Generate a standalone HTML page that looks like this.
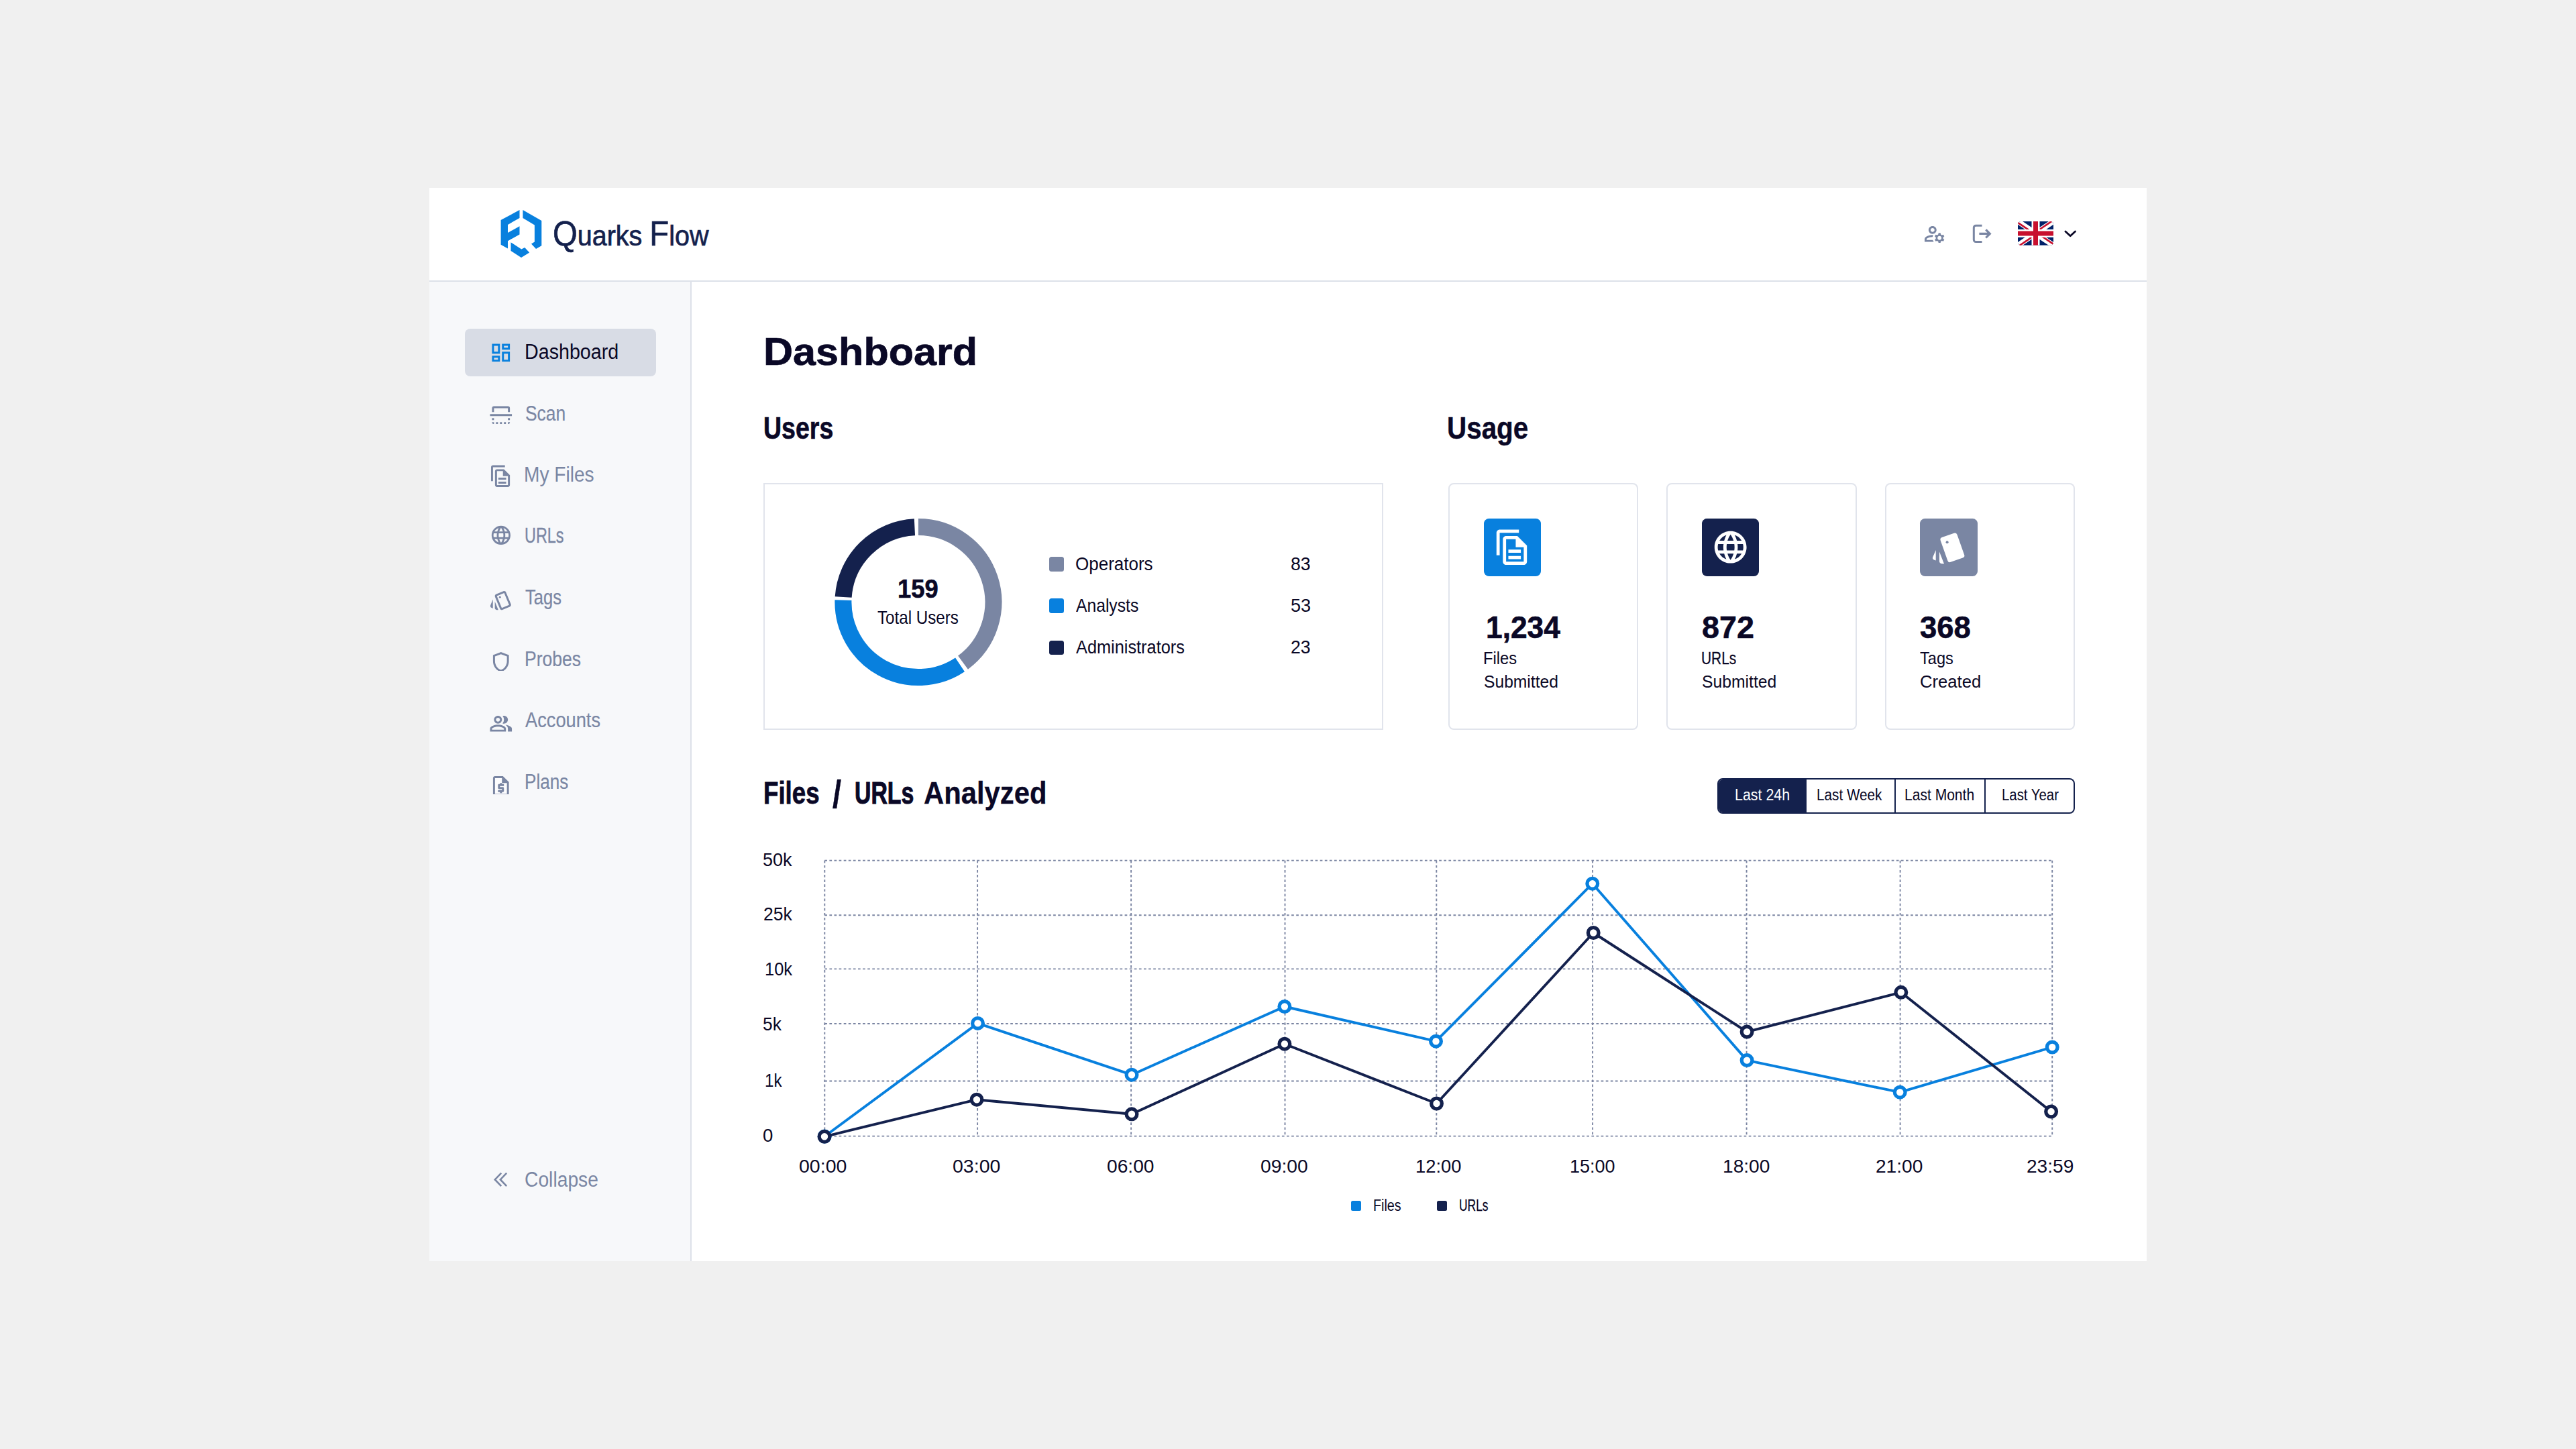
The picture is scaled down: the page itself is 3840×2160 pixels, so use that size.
<!DOCTYPE html>
<html lang="en"><head><meta charset="utf-8"><title>Quarks Flow – Dashboard</title>
<style>
*{box-sizing:border-box;margin:0;padding:0}
html,body{width:3840px;height:2160px;background:#f0f0f0;font-family:"Liberation Sans",sans-serif}
.t{position:absolute;white-space:nowrap;line-height:1;transform-origin:0 0;display:block}
.ic,.box,.tile,.clip,.sq{position:absolute;display:block}
.clip{overflow:hidden}
svg{overflow:visible}
#app{position:absolute;left:640px;top:280px;width:2560px;height:1600px;background:#fff}
#hdrline{left:640px;top:417.5px;width:2560px;height:2px;background:#dde1e9}
#side{left:640px;top:419.5px;width:389.2px;height:1460.5px;background:#f7f8fa}
#sideline{left:1029.2px;top:419.5px;width:2px;height:1460.5px;background:#dde1e9}
#active{left:693.3px;top:490.3px;width:284.4px;height:70.3px;border-radius:8px;background:#d8dce5}
.card{position:absolute;top:720px;height:368px;border:2px solid #e1e4ec;background:#fff}
.ucard{width:283.5px;border-radius:8px}
.tile{top:773.2px;width:85.5px;height:85.5px;border-radius:7.5px}
.sq{width:21.4px;height:21.4px;border-radius:3.5px;left:1564.4px}
.lsq{position:absolute;top:1790px;width:14.5px;height:15px;border-radius:2.5px}
#seg{position:absolute;left:2560px;top:1159.5px;width:533.2px;height:53px;border:2px solid #14214d;border-radius:8px;overflow:hidden;background:#fff}
#seg i{position:absolute;top:0;width:2px;height:100%;background:#14214d}
#seg b{position:absolute;left:0;top:0;width:130.7px;height:100%;background:#14214d}
#full{position:absolute;left:0;top:0;width:3840px;height:2160px;pointer-events:none}
</style></head>
<body>
<div id="app"></div>
<header>
<svg class="ic" style="left:0;top:0;width:3840px;height:460px" viewBox="0 0 3840 460" fill="#0880de"><polygon points="746.6,328.0 774.5,313.1 774.5,324.9 757.0,335.0 757.0,347.0 774.5,337.2 774.5,349.4 757.0,359.2 757.0,370.4 746.6,364.8"/><polygon points="779.4,313.1 807.3,329.1 807.3,366.2 799.0,371.1 792.0,363.4 796.9,360.6 796.9,335.4 779.4,324.9"/><polygon points="761.5,361.3 777.3,371.5 782.2,369.0 789.2,376.6 777.0,383.9 761.5,373.9"/></svg>
<svg class="ic" style="left:800px;top:300px;width:300px;height:100px" viewBox="800 300 300 100"><text x="824" y="366.2" textLength="232.5" lengthAdjust="spacingAndGlyphs" font-family="Liberation Sans, sans-serif" font-size="43" fill="#14214d" stroke="#14214d" stroke-width="0.7"><tspan font-size="51.5">Q</tspan>uarks <tspan font-size="51.5">F</tspan>low</text></svg>
<svg class="ic" style="left:2865.7px;top:330.5px;width:35.56px;height:35.56px" viewBox="0 0 24 24" fill="#7a86a3"><path d="M4 18v-.65c0-.34.16-.66.41-.81C6.1 15.53 8.03 15 10 15c.03 0 .05 0 .08.01.1-.7.3-1.37.59-1.98-.22-.02-.44-.03-.67-.03-2.42 0-4.68.67-6.61 1.82-.88.52-1.39 1.5-1.39 2.53V20h9.26c-.42-.6-.75-1.28-.97-2H4zM10 12c2.21 0 4-1.79 4-4s-1.79-4-4-4-4 1.79-4 4 1.79 4 4 4zm0-6c1.1 0 2 .9 2 2s-.9 2-2 2-2-.9-2-2 .9-2 2-2zM20.750 16c0-.22-.03-.42-.06-.63l1.14-1.01-1-1.73-1.45.49c-.32-.27-.68-.48-1.08-.63L18 11h-2l-.3 1.49c-.4.15-.76.36-1.08.63l-1.45-.49-1 1.730 1.140 1.010c-.03.21-.06.41-.06.63s.03.42.06.63l-1.14 1.01 1 1.73 1.45-.49c.32.27.68.48 1.08.63L16 21h2l.3-1.490c.4-.15.76-.36 1.080-.63l1.45.49 1-1.73-1.14-1.010c.03-.21.06-.41.06-.63zM17 18c-1.1 0-2-.9-2-2s.9-2 2-2 2 .9 2 2-.9 2-2 2z"/></svg>
<svg class="ic" style="left:2936px;top:330px;width:36px;height:36px" viewBox="2936 330 36 36" fill="none" stroke="#7a86a3" stroke-width="3"><path d="M2954.5 336.2H2945.3a3 3 0 0 0-3 3V357.5a3 3 0 0 0 3 3H2954.5"/><path d="M2950.4 348.4H2965.3M2960.3 342.4L2966.3 348.4L2960.3 354.4" stroke-width="3.2" stroke-linejoin="miter"/></svg>
<svg class="ic" style="left:3008px;top:330.2px;width:53px;height:35.8px" viewBox="0 0 53 36" preserveAspectRatio="none"><defs><clipPath id="fc"><rect width="53" height="36" rx="4.5"/></clipPath></defs><g clip-path="url(#fc)"><rect width="53" height="36" fill="#012169"/><path d="M0 0L53 36M53 0L0 36" stroke="#fff" stroke-width="8"/><path d="M25.6 19.3L-0.9 1.3M25.6 16.7L52.1 -1.3M27.4 16.7L53.9 34.7M27.4 19.3L0.9 37.3" stroke="#c8102e" stroke-width="2.6"/><path d="M26.5 0V36M0 18H53" stroke="#fff" stroke-width="12"/><path d="M26.5 0V36M0 18H53" stroke="#c8102e" stroke-width="7"/></g></svg>
<svg class="ic" style="left:3070px;top:336px;width:32px;height:24px" viewBox="3070 336 32 24" fill="none" stroke="#0a0826" stroke-width="2.8" stroke-linecap="round" stroke-linejoin="round"><polyline points="3078.9,344.9 3086.2,351.7 3093.5,344.9"/></svg>
</header>
<div class="box" id="hdrline"></div>
<nav>
<div class="box" id="side"></div><div class="box" id="sideline"></div><div class="box" id="active"></div>
<svg class="ic" style="left:728.9px;top:507.9px;width:35.56px;height:35.56px" viewBox="0 0 24 24" fill="#0880de"><path d="M19 5v2h-4V5h4M9 5v6H5V5h4m10 8v6h-4v-6h4M9 17v2H5v-2h4M21 3h-8v6h8V3zM11 3H3v10h8V3zm10 8h-8v10h8V11zm-10 4H3v6h8v-6z"/></svg><svg class="ic" style="left:728.9px;top:600.9px;width:35.56px;height:35.56px" viewBox="0 0 24 24" fill="#7a86a3"><path d="M3 9V5a2 2 0 0 1 2-2h14a2 2 0 0 1 2 2v4h-2V5H5v4zM1 11h22v2H1zM3 15h2v2H3zM19 15h2v2h-2zM7 19h2v2H7zM11 19h2v2h-2zM15 19h2v2h-2zM3 19h2v2a2 2 0 0 1-2-2zM19 19h2a2 2 0 0 1-2 2z"/></svg><svg class="ic" style="left:728.9px;top:691.5px;width:35.56px;height:35.56px" viewBox="0 0 24 24" fill="#7a86a3"><path d="M16 1H4c-1.1 0-2 .9-2 2v14h2V3h12V1zm-1 4H8c-1.1 0-1.99.9-1.99 2L6 21c0 1.1.89 2 1.99 2H19c1.1 0 2-.9 2-2V11l-6-6zM8 21V7h6v5h5v9H8z"/><path d="M9.4 13.5h7.8v2H9.4zM9.4 17.5h7.8v2H9.4z"/></svg><svg class="ic" style="left:729.7px;top:781.3px;width:33.80px;height:33.80px" viewBox="0 0 24 24" fill="#7a86a3"><path d="M11.99 2C6.47 2 2 6.48 2 12s4.47 10 9.99 10C17.52 22 22 17.52 22 12S17.52 2 11.99 2zm6.93 6h-2.95c-.32-1.25-.78-2.45-1.38-3.56 1.84.63 3.37 1.91 4.33 3.56zM12 4.04c.83 1.2 1.48 2.53 1.91 3.96h-3.82c.43-1.43 1.08-2.76 1.91-3.96zM4.26 14C4.1 13.36 4 12.69 4 12s.1-1.36.26-2h3.38c-.08.66-.14 1.32-.14 2 0 .68.06 1.34.14 2H4.26zm.82 2h2.95c.32 1.25.78 2.45 1.38 3.56-1.84-.63-3.37-1.9-4.33-3.56zm2.95-8H5.08c.96-1.66 2.49-2.93 4.33-3.56C8.81 5.55 8.35 6.75 8.03 8zM12 19.96c-.83-1.2-1.48-2.53-1.91-3.96h3.82c-.43 1.43-1.08 2.76-1.91 3.96zM14.34 14H9.66c-.09-.66-.16-1.32-.16-2 0-.68.07-1.35.16-2h4.68c.09.65.16 1.32.16 2 0 .68-.07 1.34-.16 2zm.25 5.56c.6-1.11 1.06-2.31 1.38-3.56h2.95c-.96 1.65-2.49 2.93-4.33 3.56zM16.36 14c.08-.66.14-1.32.14-2 0-.68-.06-1.34-.14-2h3.38c.16.64.26 1.31.26 2s-.1 1.36-.26 2h-3.38z"/></svg><svg class="ic" style="left:728.9px;top:876.5px;width:35.56px;height:35.56px" viewBox="0 0 24 24" fill="#7a86a3"><path d="M2.53 19.65l1.34.56v-9.03l-2.43 5.86c-.41 1.02.08 2.19 1.09 2.61zm19.5-3.7L17.07 3.98c-.31-.75-1.04-1.21-1.81-1.23-.26 0-.53.04-.79.15L7.1 5.95c-.75.31-1.21 1.03-1.23 1.8-.01.27.04.54.15.8l4.96 11.97c.31.76 1.05 1.22 1.83 1.23.26 0 .52-.05.77-.15l7.36-3.05c1.02-.42 1.51-1.59 1.09-2.6zm-9.2 3.8L7.87 7.79l7.35-3.04h.01l4.95 11.95-7.35 3.05z"/><circle cx="11" cy="9" r="1"/><path d="M5.88 19.75c0 1.1.9 2 2 2h1.45l-3.45-8.34v6.34z"/></svg><div class="clip" style="left:728.9px;top:968.9px;width:35.56px;height:31.3px"><svg class="ic" style="left:0.0px;top:0.0px;width:35.56px;height:35.56px" viewBox="0 0 24 24" fill="#7a86a3"><path d="M12 2L4 5v6.09c0 5.05 3.41 9.76 8 10.91 4.59-1.15 8-5.86 8-10.91V5l-8-3zm6 9.09c0 4-2.55 7.7-6 8.83-3.45-1.13-6-4.82-6-8.83V6.39l6-2.25 6 2.25v4.7z"/></svg></div><svg class="ic" style="left:728.9px;top:1061.1px;width:35.56px;height:35.56px" viewBox="0 0 24 24" fill="#7a86a3"><path d="M16.67 13.13C18.04 14.06 19 15.32 19 17v3h4v-3c0-2.18-3.57-3.47-6.33-3.87zM15 12c2.21 0 4-1.79 4-4s-1.79-4-4-4c-.47 0-.91.1-1.33.24C14.5 5.27 15 6.58 15 8s-.5 2.73-1.33 3.76c.42.14.86.24 1.33.24zM9 12c2.21 0 4-1.79 4-4s-1.79-4-4-4-4 1.79-4 4 1.79 4 4 4zm0-6c1.1 0 2 .9 2 2s-.9 2-2 2-2-.9-2-2 .9-2 2-2zM9 13c-2.67 0-8 1.34-8 4v3h16v-3c0-2.66-5.33-4-8-4zm6 5H3v-.99C3.2 16.29 6.3 15 9 15s5.8 1.29 6 2v1z"/></svg><div class="clip" style="left:728.9px;top:1153.8px;width:35.56px;height:29.9px"><svg class="ic" style="left:0.0px;top:0.0px;width:35.56px;height:35.56px" viewBox="0 0 24 24" fill="#7a86a3"><path d="M6 4h7v5h5v11H6z" fill="#fdfdfe"/><path d="M14 2H6c-1.1 0-1.99.9-1.99 2L4 20c0 1.1.89 2 1.99 2H18c1.1 0 2-.9 2-2V8l-6-6zM6 20V4h7v5h5v11H6zm5-1h2v-1h1c.55 0 1-.45 1-1v-3c0-.55-.45-1-1-1h-3v-1h4v-2h-2V9h-2v1h-1c-.55 0-1 .45-1 1v3c0 .55.45 1 1 1h3v1H9v2h2v1z"/></svg></div>
<svg class="ic" style="left:730px;top:1740px;width:34px;height:36px" viewBox="730 1740 34 36" fill="none" stroke="#7a86a3" stroke-width="2.6"><polyline points="747.2,1748.6 737.8,1758.4 747.2,1768.2"/><polyline points="755.2,1748.6 745.9,1758.4 755.2,1768.2"/></svg>
<span class="t" style="left:781.6px;top:509.00px;font-size:31.0px;color:#0a0826;transform:scaleX(0.9248)">Dashboard</span>
<span class="t" style="left:783.0px;top:601.00px;font-size:31.0px;color:#7a86a3;-webkit-text-stroke:0.19px #7a86a3;transform:scaleX(0.8520)">Scan</span>
<span class="t" style="left:780.9px;top:692.00px;font-size:31.0px;color:#7a86a3;transform:scaleX(0.9069)">My Files</span>
<span class="t" style="left:781.9px;top:783.00px;font-size:31.0px;color:#7a86a3;-webkit-text-stroke:0.36px #7a86a3;transform:scaleX(0.7558)">URLs</span>
<span class="t" style="left:782.7px;top:875.00px;font-size:31.0px;color:#7a86a3;-webkit-text-stroke:0.24px #7a86a3;transform:scaleX(0.8246)">Tags</span>
<span class="t" style="left:781.7px;top:967.00px;font-size:31.0px;color:#7a86a3;-webkit-text-stroke:0.19px #7a86a3;transform:scaleX(0.8560)">Probes</span>
<span class="t" style="left:782.7px;top:1058.00px;font-size:31.0px;color:#7a86a3;-webkit-text-stroke:0.15px #7a86a3;transform:scaleX(0.8786)">Accounts</span>
<span class="t" style="left:781.7px;top:1150.00px;font-size:31.0px;color:#7a86a3;-webkit-text-stroke:0.21px #7a86a3;transform:scaleX(0.8409)">Plans</span>
<span class="t" style="left:781.9px;top:1743.00px;font-size:31.0px;color:#7a86a3;transform:scaleX(0.9114)">Collapse</span>
</nav>
<main>
<h1><span class="t" style="left:1137.6px;top:496.00px;font-size:57.6px;color:#0a0826; font-weight:700;-webkit-text-stroke:0.69px #0a0826;transform:scaleX(1.0607)">Dashboard</span></h1>
<section>
<h2><span class="t" style="left:1138.0px;top:615.00px;font-size:46.9px;color:#0a0826; font-weight:700;-webkit-text-stroke:0.70px #0a0826;transform:scaleX(0.8000)">Users</span></h2>
<div class="card" style="left:1138px;width:924px"></div>
<svg class="ic" style="left:1220px;top:750px;width:300px;height:300px" viewBox="1220 750 300 300"><path d="M1368.90 785.60A112 112 0 0 1 1435.52 987.63" stroke="#7a86a3" stroke-width="25" fill="none"/><path d="M1431.04 990.78A112 112 0 0 1 1256.94 894.67" stroke="#0880de" stroke-width="25" fill="none"/><path d="M1257.16 889.98A112 112 0 0 1 1363.43 785.73" stroke="#14214d" stroke-width="25" fill="none"/></svg>
<div class="sq" style="top:830.2px;background:#7a86a3"></div><div class="sq" style="top:892.3px;background:#0880de"></div><div class="sq" style="top:954.5px;background:#14214d"></div>
<span class="t" style="left:1338.3px;top:859.00px;font-size:38.7px;color:#0a0826; font-weight:700;-webkit-text-stroke:0.62px #0a0826;transform:scaleX(0.9387)">159</span>
<span class="t" style="left:1307.6px;top:907.00px;font-size:27.3px;color:#0a0826;transform:scaleX(0.8856)">Total Users</span>
<span class="t" style="left:1603.1px;top:827.00px;font-size:27.9px;color:#0a0826;transform:scaleX(0.9323)">Operators</span>
<span class="t" style="left:1924.2px;top:827.00px;font-size:27.9px;color:#0a0826;transform:scaleX(0.9556)">83</span>
<span class="t" style="left:1604.0px;top:889.00px;font-size:27.9px;color:#0a0826;transform:scaleX(0.8845)">Analysts</span>
<span class="t" style="left:1923.7px;top:889.00px;font-size:27.9px;color:#0a0826;transform:scaleX(0.9725)">53</span>
<span class="t" style="left:1604.0px;top:951.00px;font-size:27.9px;color:#0a0826;transform:scaleX(0.9081)">Administrators</span>
<span class="t" style="left:1924.2px;top:951.00px;font-size:27.9px;color:#0a0826;transform:scaleX(0.9556)">23</span>
</section>
<section>
<h2><span class="t" style="left:2157.3px;top:615.00px;font-size:46.9px;color:#0a0826; font-weight:700;-webkit-text-stroke:0.45px #0a0826;transform:scaleX(0.8615)">Usage</span></h2>
<div class="card ucard" style="left:2158.5px"></div><div class="card ucard" style="left:2484px"></div><div class="card ucard" style="left:2809.5px"></div>
<div class="tile" style="left:2211.6px;background:#0880de"></div><svg class="ic" style="left:2225.6px;top:787.2px;width:57.36px;height:57.36px" viewBox="0 0 24 24" fill="#fff"><path d="M16 1H4c-1.1 0-2 .9-2 2v14h2V3h12V1zm-1 4H8c-1.1 0-1.99.9-1.99 2L6 21c0 1.1.89 2 1.99 2H19c1.1 0 2-.9 2-2V11l-6-6zM8 21V7h6v5h5v9H8z"/><path d="M9.4 13.5h7.8v2H9.4zM9.4 17.5h7.8v2H9.4z"/></svg>
<div class="tile" style="left:2536.9px;background:#14214d"></div><svg class="ic" style="left:2550.9px;top:787.2px;width:57.36px;height:57.36px" viewBox="0 0 24 24" fill="#fff"><path d="M11.99 2C6.47 2 2 6.48 2 12s4.47 10 9.99 10C17.52 22 22 17.52 22 12S17.52 2 11.99 2zm6.93 6h-2.95c-.32-1.25-.78-2.45-1.38-3.56 1.84.63 3.37 1.91 4.33 3.56zM12 4.04c.83 1.2 1.48 2.53 1.91 3.96h-3.82c.43-1.43 1.08-2.76 1.91-3.96zM4.26 14C4.1 13.36 4 12.69 4 12s.1-1.36.26-2h3.38c-.08.66-.14 1.32-.14 2 0 .68.06 1.34.14 2H4.26zm.82 2h2.95c.32 1.25.78 2.45 1.38 3.56-1.84-.63-3.37-1.9-4.33-3.56zm2.95-8H5.08c.96-1.66 2.49-2.93 4.33-3.56C8.81 5.55 8.35 6.75 8.03 8zM12 19.96c-.83-1.2-1.48-2.53-1.91-3.96h3.82c-.43 1.43-1.08 2.76-1.91 3.96zM14.34 14H9.66c-.09-.66-.16-1.32-.16-2 0-.68.07-1.35.16-2h4.68c.09.65.16 1.32.16 2 0 .68-.07 1.34-.16 2zm.25 5.56c.6-1.11 1.06-2.31 1.38-3.56h2.95c-.96 1.65-2.49 2.93-4.33 3.56zM16.36 14c.08-.66.14-1.32.14-2 0-.68-.06-1.34-.14-2h3.38c.16.64.26 1.31.26 2s-.1 1.36-.26 2h-3.38z"/></svg>
<div class="tile" style="left:2862.1px;background:#7a86a3"></div><svg class="ic" style="left:2862px;top:773px;width:86px;height:86px" viewBox="2862 773 86 86" fill="#fff"><rect x="-13.15" y="-19.5" width="26.3" height="39" rx="3.6" transform="translate(2910.4 816.3) rotate(-19.5)"/><circle cx="2902.6" cy="808.2" r="2.05" fill="#7a86a3"/><path d="M2891 822.6L2898 840.5L2894.2 840.2Q2891 839.6 2891 836.3Z"/><path d="M2885.7 820L2885.7 835.6L2883.4 834.8Q2880 833.2 2881.3 830.2Z"/></svg>
<div><span class="t" style="left:2214.9px;top:912.00px;font-size:46.2px;color:#0a0826; font-weight:700;-webkit-text-stroke:0.67px #0a0826;transform:scaleX(0.9592)">1,234</span>
<span class="t" style="left:2210.6px;top:968.00px;font-size:26.6px;color:#0a0826;transform:scaleX(0.8918)">Files</span>
<span class="t" style="left:2211.5px;top:1003.00px;font-size:26.6px;color:#0a0826;transform:scaleX(0.9263)">Submitted</span></div><div><span class="t" style="left:2536.6px;top:912.00px;font-size:46.2px;color:#0a0826; font-weight:700;-webkit-text-stroke:0.55px #0a0826;transform:scaleX(1.0120)">872</span>
<span class="t" style="left:2536.0px;top:968.00px;font-size:26.6px;color:#0a0826;-webkit-text-stroke:0.26px #0a0826;transform:scaleX(0.7870)">URLs</span>
<span class="t" style="left:2536.7px;top:1003.00px;font-size:26.6px;color:#0a0826;transform:scaleX(0.9289)">Submitted</span></div><div><span class="t" style="left:2861.8px;top:912.00px;font-size:46.2px;color:#0a0826; font-weight:700;-webkit-text-stroke:0.60px #0a0826;transform:scaleX(0.9840)">368</span>
<span class="t" style="left:2862.0px;top:968.00px;font-size:26.6px;color:#0a0826;transform:scaleX(0.8863)">Tags</span>
<span class="t" style="left:2861.8px;top:1003.00px;font-size:26.6px;color:#0a0826;transform:scaleX(0.9636)">Created</span></div>
</section>
<section>
<h2><span class="t" style="left:1137.8px;top:1159.00px;font-size:46.9px;color:#0a0826; font-weight:700;-webkit-text-stroke:0.79px #0a0826;transform:scaleX(0.7817)">Files</span>
<span class="t" style="left:1240.6px;top:1155.00px;font-size:58.0px;color:#0a0826;-webkit-text-stroke:0.48px #0a0826;transform:scaleX(0.8118)">/</span>
<span class="t" style="left:1274.1px;top:1159.00px;font-size:46.9px;color:#0a0826; font-weight:700;-webkit-text-stroke:1.09px #0a0826;transform:scaleX(0.7216)">URLs</span>
<span class="t" style="left:1376.9px;top:1159.00px;font-size:46.9px;color:#0a0826; font-weight:700;-webkit-text-stroke:0.34px #0a0826;transform:scaleX(0.8918)">Analyzed</span></h2>
<div id="seg"><b></b><i style="left:262.4px"></i><i style="left:395.9px"></i></div>
<span class="t" style="left:2585.6px;top:1174.00px;font-size:23.5px;color:#ffffff;transform:scaleX(0.9105)">Last 24h</span>
<span class="t" style="left:2708.4px;top:1174.00px;font-size:23.5px;color:#0a0826;transform:scaleX(0.8811)">Last Week</span>
<span class="t" style="left:2839.4px;top:1174.00px;font-size:23.5px;color:#0a0826;transform:scaleX(0.8957)">Last Month</span>
<span class="t" style="left:2983.9px;top:1174.00px;font-size:23.5px;color:#0a0826;transform:scaleX(0.8667)">Last Year</span>
<svg id="full" viewBox="0 0 3840 2160"><g stroke="#7b85a2" stroke-width="1.9" stroke-dasharray="3.7 3.4"><line x1="1229.3" x2="3059.2" y1="1282.8" y2="1282.8"/><line x1="1229.3" x2="3059.2" y1="1364.3" y2="1364.3"/><line x1="1229.3" x2="3059.2" y1="1444.4" y2="1444.4"/><line x1="1229.3" x2="3059.2" y1="1526.0" y2="1526.0"/><line x1="1229.3" x2="3059.2" y1="1611.5" y2="1611.5"/><line x1="1229.3" x2="3059.2" y1="1693.6" y2="1693.6"/><line x1="1229.3" x2="1229.3" y1="1282.8" y2="1693.6"/><line x1="1457.1" x2="1457.1" y1="1282.8" y2="1693.6"/><line x1="1686.1" x2="1686.1" y1="1282.8" y2="1693.6"/><line x1="1915.5" x2="1915.5" y1="1282.8" y2="1693.6"/><line x1="2141.3" x2="2141.3" y1="1282.8" y2="1693.6"/><line x1="2374.1" x2="2374.1" y1="1282.8" y2="1693.6"/><line x1="2603.6" x2="2603.6" y1="1282.8" y2="1693.6"/><line x1="2832.6" x2="2832.6" y1="1282.8" y2="1693.6"/><line x1="3059.2" x2="3059.2" y1="1282.8" y2="1693.6"/></g><polyline points="1229.2,1694 1457.5,1525.4 1687,1602.2 1914.9,1500.5 2140.5,1552.2 2373.8,1317.2 2604.1,1580.6 2832.2,1628.2 3059.2,1561" fill="none" stroke="#0880de" stroke-width="3.9" stroke-linejoin="round"/><circle cx="1229.2" cy="1694" r="7.85" fill="#fff" stroke="#0880de" stroke-width="5.3"/><circle cx="1457.5" cy="1525.4" r="7.85" fill="#fff" stroke="#0880de" stroke-width="5.3"/><circle cx="1687" cy="1602.2" r="7.85" fill="#fff" stroke="#0880de" stroke-width="5.3"/><circle cx="1914.9" cy="1500.5" r="7.85" fill="#fff" stroke="#0880de" stroke-width="5.3"/><circle cx="2140.5" cy="1552.2" r="7.85" fill="#fff" stroke="#0880de" stroke-width="5.3"/><circle cx="2373.8" cy="1317.2" r="7.85" fill="#fff" stroke="#0880de" stroke-width="5.3"/><circle cx="2604.1" cy="1580.6" r="7.85" fill="#fff" stroke="#0880de" stroke-width="5.3"/><circle cx="2832.2" cy="1628.2" r="7.85" fill="#fff" stroke="#0880de" stroke-width="5.3"/><circle cx="3059.2" cy="1561" r="7.85" fill="#fff" stroke="#0880de" stroke-width="5.3"/><polyline points="1229,1694.3 1456,1639.2 1687,1660.8 1914.9,1556.2 2141.5,1645 2375.2,1390.5 2604.1,1538.1 2833.8,1479.3 3057.6,1657" fill="none" stroke="#14214d" stroke-width="3.9" stroke-linejoin="round"/><circle cx="1229" cy="1694.3" r="7.85" fill="#fff" stroke="#14214d" stroke-width="5.3"/><circle cx="1456" cy="1639.2" r="7.85" fill="#fff" stroke="#14214d" stroke-width="5.3"/><circle cx="1687" cy="1660.8" r="7.85" fill="#fff" stroke="#14214d" stroke-width="5.3"/><circle cx="1914.9" cy="1556.2" r="7.85" fill="#fff" stroke="#14214d" stroke-width="5.3"/><circle cx="2141.5" cy="1645" r="7.85" fill="#fff" stroke="#14214d" stroke-width="5.3"/><circle cx="2375.2" cy="1390.5" r="7.85" fill="#fff" stroke="#14214d" stroke-width="5.3"/><circle cx="2604.1" cy="1538.1" r="7.85" fill="#fff" stroke="#14214d" stroke-width="5.3"/><circle cx="2833.8" cy="1479.3" r="7.85" fill="#fff" stroke="#14214d" stroke-width="5.3"/><circle cx="3057.6" cy="1657" r="7.85" fill="#fff" stroke="#14214d" stroke-width="5.3"/></svg>
<div class="lsq" style="left:2014px;background:#0880de"></div><div class="lsq" style="left:2142px;background:#14214d"></div>
<span class="t" style="left:1137.3px;top:1268.00px;font-size:27.6px;color:#0a0826;transform:scaleX(0.9792)">50k</span>
<span class="t" style="left:1137.7px;top:1349.00px;font-size:27.6px;color:#0a0826;transform:scaleX(0.9632)">25k</span>
<span class="t" style="left:1139.6px;top:1431.00px;font-size:27.6px;color:#0a0826;transform:scaleX(0.9225)">10k</span>
<span class="t" style="left:1137.1px;top:1513.00px;font-size:27.6px;color:#0a0826;transform:scaleX(0.9557)">5k</span>
<span class="t" style="left:1139.6px;top:1597.00px;font-size:27.6px;color:#0a0826;transform:scaleX(0.8737)">1k</span>
<span class="t" style="left:1137.1px;top:1679.00px;font-size:27.6px;color:#0a0826;transform:scaleX(1.0000)">0</span>
<span class="t" style="left:1191.0px;top:1725.00px;font-size:27.6px;color:#0a0826;transform:scaleX(1.0334)">00:00</span>
<span class="t" style="left:1419.8px;top:1725.00px;font-size:27.6px;color:#0a0826;transform:scaleX(1.0334)">03:00</span>
<span class="t" style="left:1649.8px;top:1725.00px;font-size:27.6px;color:#0a0826;transform:scaleX(1.0216)">06:00</span>
<span class="t" style="left:1879.1px;top:1725.00px;font-size:27.6px;color:#0a0826;transform:scaleX(1.0231)">09:00</span>
<span class="t" style="left:2110.2px;top:1725.00px;font-size:27.6px;color:#0a0826;transform:scaleX(0.9905)">12:00</span>
<span class="t" style="left:2340.4px;top:1725.00px;font-size:27.6px;color:#0a0826;transform:scaleX(0.9770)">15:00</span>
<span class="t" style="left:2568.1px;top:1725.00px;font-size:27.6px;color:#0a0826;transform:scaleX(1.0189)">18:00</span>
<span class="t" style="left:2796.4px;top:1725.00px;font-size:27.6px;color:#0a0826;transform:scaleX(1.0172)">21:00</span>
<span class="t" style="left:3020.5px;top:1725.00px;font-size:27.6px;color:#0a0826;transform:scaleX(1.0172)">23:59</span>
<span class="t" style="left:2046.8px;top:1786.00px;font-size:23.1px;color:#0a0826;transform:scaleX(0.8531)">Files</span>
<span class="t" style="left:2174.8px;top:1786.00px;font-size:23.1px;color:#0a0826;-webkit-text-stroke:0.27px #0a0826;transform:scaleX(0.7540)">URLs</span>
</section>
</main>
</body></html>
